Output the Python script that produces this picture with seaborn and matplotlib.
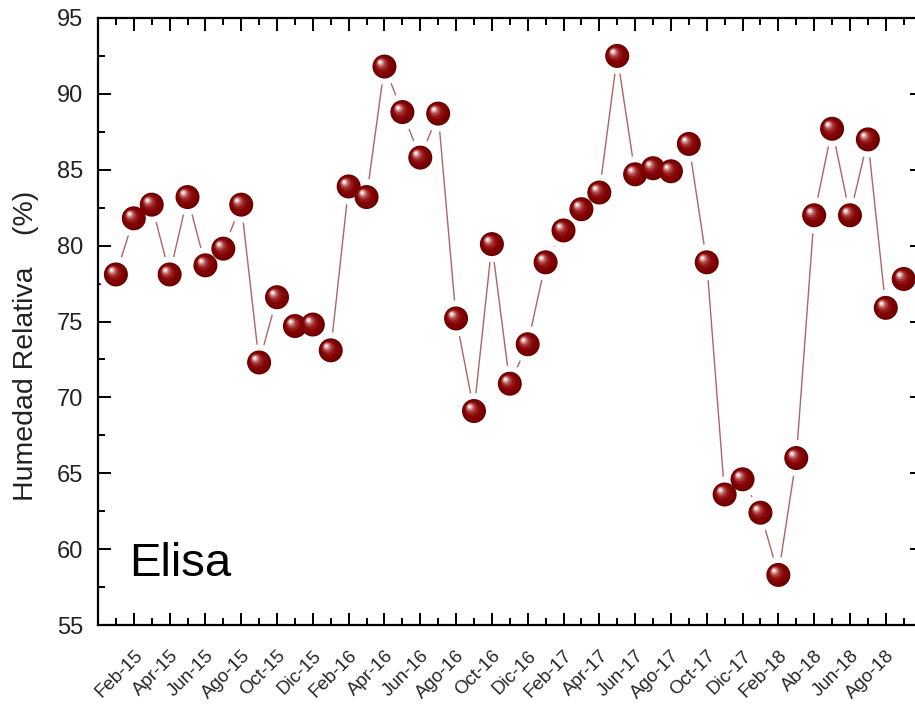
import numpy as np
import pandas as pd
import matplotlib
matplotlib.use("Agg")
import matplotlib.pyplot as plt
from matplotlib.transforms import offset_copy
import seaborn as sns

# Monthly relative humidity, Jan-2015 .. Sep-2018
month_index = list(range(1, 46))
humidity = [
    78.1, 81.8, 82.7, 78.1, 83.2, 78.7, 79.8, 82.7, 72.3, 76.6, 74.7, 74.8,
    73.1, 83.9, 83.2, 91.8, 88.8, 85.8, 88.7, 75.2, 69.1, 80.1, 70.9, 73.5,
    78.9, 81.0, 82.4, 83.5, 92.5, 84.7, 85.1, 84.9, 86.7, 78.9, 63.6, 64.6,
    62.4, 58.3, 66.0, 82.0, 87.7, 82.0, 87.0, 75.9, 77.8,
]
tick_positions = list(range(2, 46, 2))
tick_labels = [
    "Feb-15", "Apr-15", "Jun-15", "Ago-15", "Oct-15", "Dic-15",
    "Feb-16", "Apr-16", "Jun-16", "Ago-16", "Oct-16", "Dic-16",
    "Feb-17", "Apr-17", "Jun-17", "Ago-17", "Oct-17", "Dic-17",
    "Feb-18", "Ab-18", "Jun-18", "Ago-18",
]
y_ticks = [55, 60, 65, 70, 75, 80, 85, 90, 95]

df = pd.DataFrame({"mes": month_index, "hr": humidity})

sns.set_style("ticks")
plt.rcParams["font.family"] = ["Liberation Sans", "DejaVu Sans"]

DPI = 100
fig = plt.figure(figsize=(9.15, 7.04), dpi=DPI)
fig.patch.set_facecolor("white")
W, H = 915, 704
left, right, top, bottom = 98, 921.6, 18, 625
ax = fig.add_axes([left / W, (H - bottom) / H, (right - left) / W, (bottom - top) / H])


def px_to_size(d):
    # scatter size (pt^2) for a marker of d pixels diameter
    return (d * 72 / DPI) ** 2


# connecting line
sns.lineplot(data=df, x="mes", y="hr", ax=ax, color="#b06464", linewidth=1.0,
             zorder=1, legend=False)
# white halo that opens a gap in the line around every sphere
ax.scatter(df["mes"], df["hr"], s=px_to_size(36), color="white",
           edgecolors="none", zorder=1.5)
# sphere body
sns.scatterplot(data=df, x="mes", y="hr", ax=ax, s=px_to_size(24),
                color="#680000", edgecolor="none", linewidth=0, zorder=3,
                legend=False)
# shading layers towards the highlight (upper left)
layers = [
    (22, -0.4, 0.4, "#780000"),
    (18.5, -1.0, 1.0, "#820303"),
    (14, -2.0, 2.0, "#921616"),
    (10.5, -3.0, 3.0, "#a83c3c"),
    (7.5, -3.7, 3.7, "#c47474"),
    (5.2, -4.1, 4.1, "#dea8a8"),
    (3.2, -4.3, 4.3, "#f3dada"),
    (1.8, -4.4, 4.4, "#ffffff"),
]
for d, dx, dy, c in layers:
    tr = offset_copy(ax.transData, fig=fig, x=dx, y=dy, units="dots")
    ax.scatter(df["mes"], df["hr"], s=px_to_size(d), color=c,
               edgecolors="none", zorder=4, transform=tr)

ax.set_xlim(0, 46)
ax.set_ylim(55, 95)
ax.set_xticks(tick_positions)
ax.set_xticks(list(range(1, 46, 2)), minor=True)
ax.set_xticklabels(tick_labels, rotation=45, ha="right", va="top",
                   rotation_mode="anchor", fontsize=13.5)
ax.set_yticks(y_ticks)
ax.set_yticks([57.5, 62.5, 67.5, 72.5, 77.5, 82.5, 87.5, 92.5], minor=True)
ax.set_yticklabels([str(v) for v in y_ticks], fontsize=17, color="#222222")

ax.tick_params(axis="both", which="both", direction="in", top=True, right=True,
               width=1.4, color="black")
ax.tick_params(axis="both", which="major", length=9)
ax.tick_params(axis="both", which="minor", length=4.7)
ax.tick_params(axis="x", which="major", pad=16)
ax.tick_params(axis="y", which="major", pad=10.5)
for sp in ax.spines.values():
    sp.set_linewidth(1.6)
    sp.set_color("black")
    sp.set_visible(True)

ax.set_xlabel("")
ax.set_ylabel("Humedad Relativa    (%)", fontsize=20.5, color="#222222")
ax.yaxis.set_label_coords(-0.072, 0.46)

ax.text(1.73, 58.2, "Elisa", fontsize=34, ha="left", va="baseline",
        color="black", zorder=6)

fig.savefig("out.png", dpi=DPI)
